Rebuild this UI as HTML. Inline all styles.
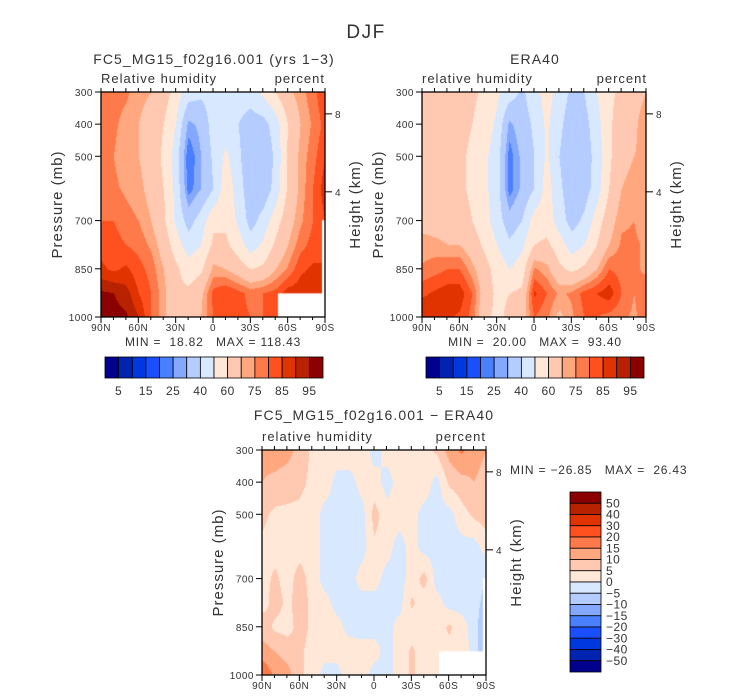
<!DOCTYPE html>
<html><head><meta charset="utf-8">
<style>
html,body{margin:0;padding:0;background:#fff;}
#wrap{position:relative;width:733px;height:699px;overflow:hidden;font-family:"Liberation Sans",sans-serif;}
canvas{position:absolute;}
svg{position:absolute;left:0;top:0;}
svg text{white-space:pre;fill:#333;}
</style></head>
<body>
<div id="wrap">
<canvas id="c1"></canvas>
<canvas id="c2"></canvas>
<canvas id="c3"></canvas>
<svg id="ov" width="733" height="699"></svg>
</div>
<script>
const lats=[90,80,70,60,50,40,30,20,10,0,-10,-20,-30,-40,-50,-60,-70,-80,-90];
const pres=[300,400,500,600,700,775,850,925,1000];
const modelRH=[
[78,77,76,72,70,65,55,45,42,45,45,45,45,52,60,68,73,78,85],
[77,76,73,70,66,60,50,28,32,45,45,40,35,36,45,60,70,76,82],
[76,75,72,70,66,58,45,20,30,42,52,42,32,32,42,62,72,78,85],
[77,76,74,72,67,60,47,22,30,40,57,45,33,33,44,62,72,80,88],
[80,80,77,75,70,62,48,36,45,58,58,48,36,44,56,66,74,80,85],
[83,82,80,78,74,66,55,45,50,62,62,55,45,52,62,70,78,82,85],
[86,84,86,82,78,70,62,55,58,72,70,65,60,62,70,76,84,86,85],
[96,95,92,85,80,72,62,62,68,82,85,82,78,80,82,88,88,86,85],
[98,97,96,90,80,72,62,62,70,80,82,82,80,80,82,85,85,85,85]];
const eraRH=[
[65,65,64,63,62,58,52,45,38,46,55,45,38,40,50,58,62,66,70],
[64,64,64,63,60,55,48,28,35,42,52,42,35,36,46,58,66,68,75],
[63,63,63,62,58,52,45,22,32,40,52,40,33,34,44,58,68,70,72],
[65,64,64,62,58,52,45,22,32,40,55,42,34,35,45,60,70,72,72],
[68,66,66,65,60,54,45,34,40,55,56,45,36,42,55,66,74,75,72],
[72,72,70,70,65,58,50,42,48,60,62,55,45,50,60,70,76,76,74],
[76,78,80,80,72,64,56,50,55,76,72,62,58,62,70,80,78,76,74],
[84,86,88,88,80,65,58,60,62,86,80,74,76,82,85,88,80,75,78],
[90,86,86,84,78,62,58,62,66,80,76,68,74,80,80,78,76,74,78]];
const diffRH=[
[12,14,12,8,4,3,3,3,3,-2,2,3,3,3,6,12,16,12,10],
[10,8,7,6,4,3,-2,-2,2,2,-2,2,3,3,-2,6,8,10,8],
[6,4,4,4,3,-2,-2,-3,-2,7,2,2,2,-2,-2,-2,3,6,8],
[4,3,3,3,3,-2,-2,-2,-2,4,2,-2,2,-2,-2,-2,-2,-2,2],
[3,6,3,7,3,-2,-2,-2,2,2,-2,-2,2,7,-2,-2,-2,-2,-5],
[3,7,4,7,4,2,-2,-2,-2,-2,-2,-2,6,2,2,-2,-2,-2,-8],
[8,4,3,7,4,2,2,-2,-2,-2,-2,2,2,2,2,6,2,-2,-12],
[12,10,8,6,3,2,2,3,2,2,-2,2,6,2,2,3,3,-2,-12],
[20,14,12,6,3,-2,-2,3,2,-2,-2,2,6,2,2,3,3,2,2]];
const rhLevels=[5,10,15,20,25,30,40,50,60,70,75,80,85,90,95];
const rhLabels=["5","15","25","40","60","75","85","95"];
const diffLevels=[-50,-40,-30,-20,-15,-10,-5,0,5,10,15,20,30,40,50];
const pTicks=[300,400,500,700,850,1000];
const hTicks=[4,8];
const latTicks=[90,60,30,0,-30,-60,-90];
const latNames=["90N","60N","30N","0","30S","60S","90S"];
const colors=["#00008f","#0024b0","#0038e0","#1a4fff","#4a80ff","#85a8ff","#b4ccff","#d8e8ff","#ffe8d8","#ffc8b0","#ffa880","#ff7a4a","#ff5020","#e03300","#b82200","#8b0000"];

const NS="http://www.w3.org/2000/svg";
const ov=document.getElementById('ov');
function el(tag,attrs,name,parent){const e=document.createElementNS(NS,tag);for(const k in attrs)e.setAttribute(k,attrs[k]);


(parent||ov).appendChild(e);return e;}
function txt(x,y,s,size,name,anchor,rot,ls){const t=el('text',{x:0,y:0,'font-size':size,'text-anchor':anchor||'middle','letter-spacing':(ls===undefined?1:ls)},name);
t.setAttribute('transform','translate('+x+' '+y+')'+(rot?' rotate(-90)':''));t.textContent=s;return t;}

function interp(grid,lat,p){
  let i=0;while(i<lats.length-2&&lat<lats[i+1])i++;
  let j=0;while(j<pres.length-2&&p>pres[j+1])j++;
  const fx=(lats[i]-lat)/(lats[i]-lats[i+1]);const fy=(p-pres[j])/(pres[j+1]-pres[j]);
  const a=grid[j][i],b=grid[j][i+1],c=grid[j+1][i],d=grid[j+1][i+1];
  return a*(1-fx)*(1-fy)+b*fx*(1-fy)+c*(1-fx)*fy+d*fx*fy;
}
function colorIdx(v,levels){let k=0;while(k<levels.length&&v>=levels[k])k++;return k;}

function panel(id,X,Y,grid,levels,whiteBox){
  const W=224,H=225;
  const cv=document.getElementById(id);cv.width=W;cv.height=H;cv.style.left=X+'px';cv.style.top=Y+'px';
  const ctx=cv.getContext('2d');
  for(let py=0;py<H;py++){const p=300+py/H*700;
    for(let px=0;px<W;px++){const lat=90-px/W*180;
      ctx.fillStyle=colors[colorIdx(interp(grid,lat,p),levels)];ctx.fillRect(px,py,1,1);}}
  if(whiteBox){ctx.fillStyle='#fff';ctx.fillRect(W*0.79,H*0.895,W*0.21,H*0.105);ctx.fillRect(W-3,H*0.57,3,H*0.43);}
  const xs=lat=>X+(90-lat)/180*W, ys=p=>Y+(p-300)/700*H;
  el('rect',{x:X,y:Y,width:W,height:H,fill:'none',stroke:'#000','stroke-width':1.3},'plot-frame');
  for(let l=90;l>=-90;l-=10){const x=xs(l);
    el('line',{x1:x,y1:Y,x2:x,y2:Y-4,stroke:'#000'},'top-tick');
    const big=(l%30===0);el('line',{x1:x,y1:Y+H,x2:x,y2:Y+H+(big?6:3),stroke:'#000'},'x-tick');}
  latTicks.forEach((l,k)=>txt(xs(l),Y+H+14,latNames[k],10,'x-tick-label','middle',false,0.5));
  pTicks.forEach(p=>{el('line',{x1:X-6,y1:ys(p),x2:X,y2:ys(p),stroke:'#000'},'y-tick');txt(X-8,ys(p)+4,String(p),10,'y-tick-label','end',false,0.5);});
  hTicks.forEach(z=>{const p=1013*Math.exp(-z/7.9);el('line',{x1:X+W,y1:ys(p),x2:X+W+7,y2:ys(p),stroke:'#000'},'height-tick');txt(X+W+10,ys(p)+4,String(z),10,'height-tick-label','start',false,0.5);});
  txt(X-39,Y+H/2,'Pressure (mb)',15,'y-axis-title','middle',true,1);
  txt(X+W+35,Y+H/2,'Height (km)',15,'right-axis-title','middle',true,1);
}
function hbar(X,Y,W,H){
  const n=colors.length,w=W/n;
  colors.forEach((c,k)=>el('rect',{x:X+k*w,y:Y,width:w,height:H,fill:c,stroke:'#000','stroke-width':0.8},'colorbar-box'));
  rhLabels.forEach((s,k)=>txt(X+(2*k+1)*w,Y+H+17,s,12,'colorbar-label','middle',false,0.5));
}
panel('c1',101,92,modelRH,rhLevels,true);
panel('c2',422,92,eraRH,rhLevels,false);
panel('c3',262,450,diffRH,diffLevels,true);
hbar(105,357,218,21);
hbar(426,357,218,21);
(function(){const X=570,Y=492,W=31,H=180,n=colors.length,h=H/n;
  for(let k=0;k<n;k++)el('rect',{x:X,y:Y+k*h,width:W,height:h,fill:colors[n-1-k],stroke:'#000','stroke-width':0.8},'diff-colorbar-box');
  const rev=diffLevels.slice().reverse();
  rev.forEach((v,k)=>txt(X+W+5,Y+(k+1)*h+4,v<0?'\u2212'+(-v):String(v),12,'diff-colorbar-label','start',false,0.5));})();

txt(366,38,'DJF',19,'figure-title','middle',false,1.5);
txt(214,64,'FC5_MG15_f02g16.001 (yrs 1\u22123)',14,'model-title','middle',false,1.1);
txt(101,83,'Relative humidity',13,'model-variable','start',false,1);
txt(325,83,'percent',13,'model-units','end',false,1);
txt(213,346,'MIN =  18.82   MAX = 118.43',12,'model-minmax','middle',false,0.8);
txt(535,64,'ERA40',14,'era40-title','middle',false,1.1);
txt(422,83,'relative humidity',13,'era40-variable','start',false,1);
txt(647,83,'percent',13,'era40-units','end',false,1);
txt(535,346,'MIN =  20.00   MAX =  93.40',12,'era40-minmax','middle',false,0.8);
txt(374,420,'FC5_MG15_f02g16.001 \u2212 ERA40',14,'diff-title','middle',false,1.1);
txt(262,441,'relative humidity',13,'diff-variable','start',false,1);
txt(486,441,'percent',13,'diff-units','end',false,1);
txt(510,474,'MIN = \u221226.85   MAX =  26.43',12,'diff-minmax','start',false,0.8);
</script>
</body></html>
